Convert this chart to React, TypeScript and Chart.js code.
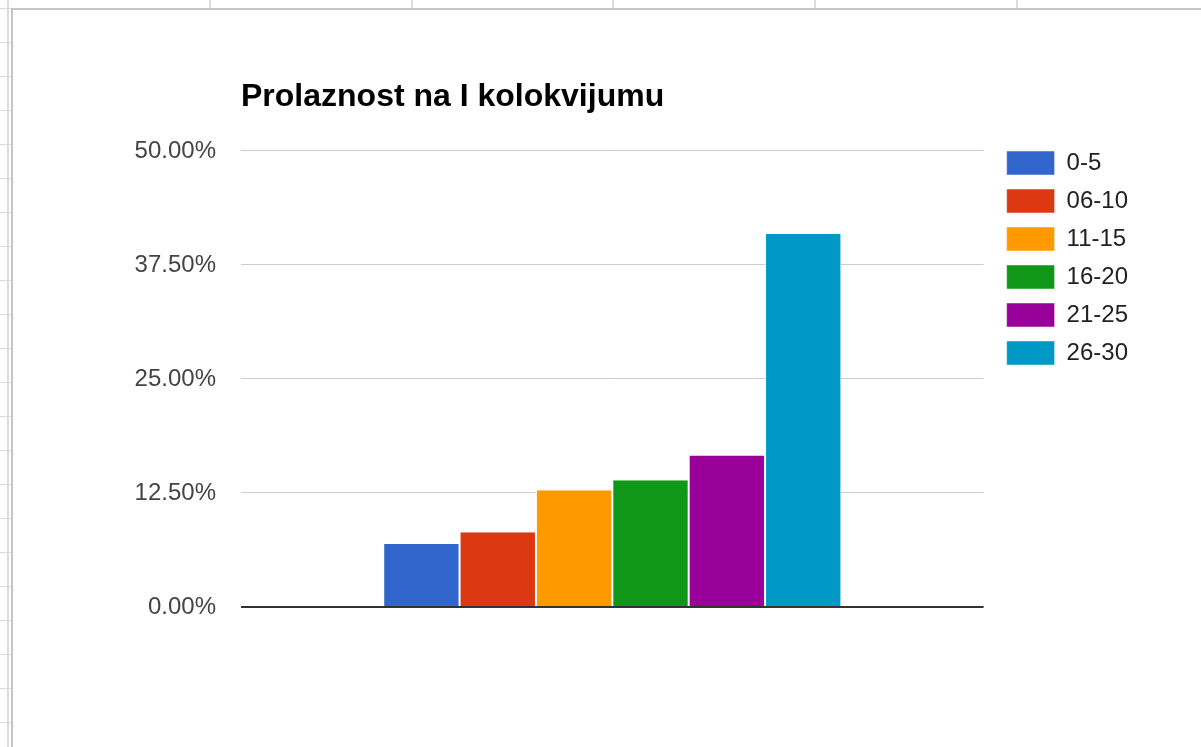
import React, { useEffect, useRef } from "react";
import { Chart, registerables } from "chart.js";

Chart.register(...registerables);

const chartTitle = "Prolaznost na I kolokvijumu";
const categories = [""];
const seriesLabels = ["0-5", "06-10", "11-15", "16-20", "21-25", "26-30"];
const seriesValues = [6.9, 8.2, 12.8, 13.9, 16.6, 40.9];
const seriesColors = ["#3366cc", "#dc3912", "#ff9900", "#109618", "#990099", "#0099c6"];
const yTicks = [0, 12.5, 25, 37.5, 50];

const FONT = "'Liberation Sans', Arial, sans-serif";

const rowLines = Array.from({ length: 22 }, (_, k) => 8.7 + 33.98 * k);
const colLines = [209, 411, 612, 814, 1016];

const legendShift = {
  id: "legendShift",
  afterLayout(chart: any) {
    const l = chart.legend;
    if (!l) return;
    const dx = 9;
    const dy = 59;
    l.left += dx;
    l.right += dx;
    l.top += dy;
    l.bottom += dy;
  },
};

export default function App() {
  const ref = useRef<HTMLCanvasElement | null>(null);

  useEffect(() => {
    if (!ref.current) return;
    const chart = new Chart(ref.current, {
      type: "bar",
      data: {
        labels: categories,
        datasets: seriesLabels.map((label, i) => ({
          label,
          data: [seriesValues[i]],
          backgroundColor: seriesColors[i],
          borderColor: "#ffffff",
          borderWidth: { left: 1, right: 1, top: 0, bottom: 0 },
          borderSkipped: false,
          categoryPercentage: 0.617,
          barPercentage: 1,
        })),
      },
      options: {
        animation: false,
        responsive: false,
        maintainAspectRatio: false,
        layout: { padding: { top: 78, left: 0, right: 72, bottom: 140 } },
        plugins: {
          title: {
            display: true,
            text: chartTitle,
            align: "start",
            fullSize: false,
            color: "#000000",
            font: { family: FONT, size: 32, weight: "bold", lineHeight: 1.2 },
            padding: { top: 0, bottom: 34.5 },
          },
          legend: {
            display: true,
            position: "right",
            align: "start",
            labels: {
              boxWidth: 48,
              boxHeight: 24,
              padding: 14,
              color: "#222222",
              font: { family: FONT, size: 24 },
            },
          },
          tooltip: { enabled: false },
        },
        scales: {
          x: {
            display: false,
            grid: { display: false },
          },
          y: {
            min: 0,
            max: 50,
            afterFit(scale: any) {
              scale.width = 241;
            },
            afterBuildTicks(scale: any) {
              scale.ticks = yTicks.map((v) => ({ value: v }));
            },
            border: { display: false },
            grid: {
              drawTicks: false,
              color: (ctx: any) => (ctx.tick && ctx.tick.value === 0 ? "#333333" : "#cccccc"),
              lineWidth: (ctx: any) => (ctx.tick && ctx.tick.value === 0 ? 2 : 1),
            },
            ticks: {
              padding: 25,
              color: "#444444",
              font: { family: FONT, size: 24 },
              callback: (v: any) => Number(v).toFixed(2) + "%",
            },
          },
        },
      },
      plugins: [legendShift],
    });
    return () => chart.destroy();
  }, []);

  return (
    <div style={{ position: "fixed", left: 0, top: 0, width: 1201, height: 747, background: "#ffffff", overflow: "hidden" }}>
      <div style={{ position: "absolute", left: 7, top: 0, width: 2, height: 747, background: "#dcdcdc" }} />
      {rowLines.map((y, i) => (
        <div key={"r" + i} style={{ position: "absolute", left: 0, top: y - 0.75, width: 11, height: 1.5, background: "#dcdcdc" }} />
      ))}
      {colLines.map((x, i) => (
        <div key={"c" + i} style={{ position: "absolute", left: x, top: 0, width: 2, height: 9, background: "#dcdcdc" }} />
      ))}
      <div style={{ position: "absolute", left: 11, top: 8, width: 1190, height: 2, background: "#c4c4c4" }} />
      <div style={{ position: "absolute", left: 11, top: 8, width: 2, height: 739, background: "#c4c4c4" }} />
      <canvas ref={ref} width={1201} height={747} style={{ position: "absolute", left: 0, top: 0, width: 1201, height: 747 }} />
    </div>
  );
}
